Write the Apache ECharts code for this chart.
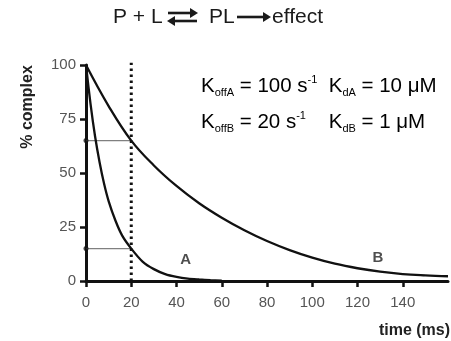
<!DOCTYPE html>
<html>
<head>
<meta charset="utf-8">
<script src="https://cdn.jsdelivr.net/npm/echarts@6/dist/echarts.min.js"></script>
<style>
  html, body { margin: 0; padding: 0; background: #fff; }
  #chart { width: 451px; height: 341px; }
</style>
</head>
<body>
<div id="chart"></div>
<script>
// dissociation curves (time in ms, % complex)
const timeA = [0, 2, 4, 6, 8, 10, 13, 16, 20, 25, 30, 35, 40, 45, 50, 55, 60];
const pctA = [100, 82, 67, 55, 45, 37, 28, 21, 15, 9, 5.5, 3.2, 1.9, 1.1, 0.7, 0.4, 0.2];
const timeB = [0, 10, 20, 30, 40, 50, 60, 70, 80, 90, 100, 110, 120, 130, 140, 150, 160];
const pctB = [100, 81, 65, 53.5, 44, 36, 29.3, 23.5, 18.5, 14.3, 10.8, 8, 5.9, 4.3, 3.2, 2.6, 2.2];

// guide lines at t = 20 ms
const markTime = 20;
const levelsAtMark = [65, 15];

const xTicks = [0, 20, 40, 60, 80, 100, 120, 140];
const curveLabels = [
  { name: "A", t: 44, v: 10 },
  { name: "B", t: 129, v: 10.5 },
];

const font = "Liberation Sans, Arial, sans-serif";
const ink = "#1a1a1a";
const chart = echarts.init(document.getElementById("chart"));

const pairs = (xs, ys) => xs.map((x, i) => [x, ys[i]]);

const guideSeries = levelsAtMark.map((lvl) => ({
  type: "line",
  data: [[0, lvl], [markTime, lvl]],
  symbol: "none",
  lineStyle: { color: "#808080", width: 1.3 },
  silent: true,
  z: 1,
}));

// title pieces: text plus hand drawn arrows
const titleY = 17;
const titleText = (x, text) => ({
  type: "text",
  x,
  y: titleY,
  style: { text, fontFamily: font, fontSize: 21, fill: ink, verticalAlign: "middle" },
});
const arrowLine = (x1, x2, y) => ({
  type: "line",
  shape: { x1, y1: y, x2, y2: y },
  style: { stroke: ink, lineWidth: 2.6 },
});
const arrowHead = (tipX, y, dir) => ({
  type: "polygon",
  shape: { points: [[tipX - dir * 8, y - 5], [tipX, y], [tipX - dir * 8, y + 5]] },
  style: { fill: ink },
});

const richK = {
  t: { fontFamily: font, fontSize: 20.5, color: ink, lineHeight: 24 },
  sub: { fontFamily: font, fontSize: 11, color: ink, verticalAlign: "bottom" },
  sup: { fontFamily: font, fontSize: 11, color: ink, verticalAlign: "top" },
};

chart.setOption({
  animation: false,
  grid: { left: 86, right: 3, top: 65, bottom: 60 },
  xAxis: {
    type: "value",
    min: 0,
    max: 160,
    splitLine: { show: false },
    axisLine: { lineStyle: { color: "#111", width: 3 } },
    axisTick: {
      length: 6,
      lineStyle: { color: "#111", width: 2.5 },
      customValues: xTicks,
    },
    axisLabel: {
      color: "#555",
      fontFamily: font,
      fontSize: 15,
      margin: 14,
      customValues: xTicks,
    },
  },
  yAxis: {
    type: "value",
    min: 0,
    max: 100,
    interval: 25,
    splitLine: { show: false },
    axisLine: { show: true, lineStyle: { color: "#111", width: 3 } },
    axisTick: { show: true, length: 6, lineStyle: { color: "#111", width: 2.5 } },
    axisLabel: { color: "#555", fontFamily: font, fontSize: 15, margin: 10 },
  },
  series: [
    ...guideSeries,
    {
      type: "scatter",
      data: levelsAtMark.map((lvl) => [0, lvl]),
      symbolSize: 5,
      itemStyle: { color: "#111" },
      z: 3,
    },
    {
      type: "line",
      data: [[markTime, 0], [markTime, 101]],
      symbol: "none",
      clip: false,
      lineStyle: { color: "#111", width: 3, type: [2.5, 3.5] },
      z: 2,
    },
    {
      type: "line",
      data: pairs(timeA, pctA),
      smooth: 0.3,
      symbol: "none",
      lineStyle: { color: "#111", width: 2.3 },
      z: 4,
    },
    {
      type: "line",
      data: pairs(timeB, pctB),
      smooth: 0.4,
      symbol: "none",
      lineStyle: { color: "#111", width: 2.3 },
      z: 4,
    },
    {
      type: "scatter",
      data: curveLabels.map((c) => ({ name: c.name, value: [c.t, c.v] })),
      symbolSize: 0,
      label: {
        show: true,
        position: "inside",
        formatter: "{b}",
        color: "#222",
        fontFamily: font,
        fontSize: 15,
        fontWeight: "bold",
      },
    },
  ],
  graphic: [
    titleText(113, "P + L"),
    arrowLine(168, 192, titleY - 4),
    arrowHead(198, titleY - 4, 1),
    arrowLine(173, 197, titleY + 4),
    arrowHead(167, titleY + 4, -1),
    titleText(209, "PL"),
    arrowLine(237, 263, titleY),
    arrowHead(271, titleY, 1),
    titleText(272, "effect"),
    {
      type: "text",
      left: 201,
      top: 74,
      style: {
        text: "{t|K}{sub|offA}{t| = 100 s}{sup|-1}{t|  K}{sub|dA}{t| = 10 μM}",
        rich: richK,
      },
    },
    {
      type: "text",
      left: 201,
      top: 110,
      style: {
        text: "{t|K}{sub|offB}{t| = 20 s}{sup|-1}{t|    K}{sub|dB}{t| = 1 μM}",
        rich: richK,
      },
    },
    {
      type: "text",
      x: 28,
      y: 107,
      rotation: Math.PI / 2,
      style: {
        text: "% complex",
        fontFamily: font,
        fontSize: 16,
        fontWeight: "bold",
        fill: "#222",
        align: "center",
        verticalAlign: "middle",
      },
    },
    {
      type: "text",
      right: 1,
      top: 323,
      style: {
        text: "time (ms)",
        fontFamily: font,
        fontSize: 16,
        fontWeight: "bold",
        fill: "#222",
      },
    },
  ],
});
</script>
</body>
</html>
